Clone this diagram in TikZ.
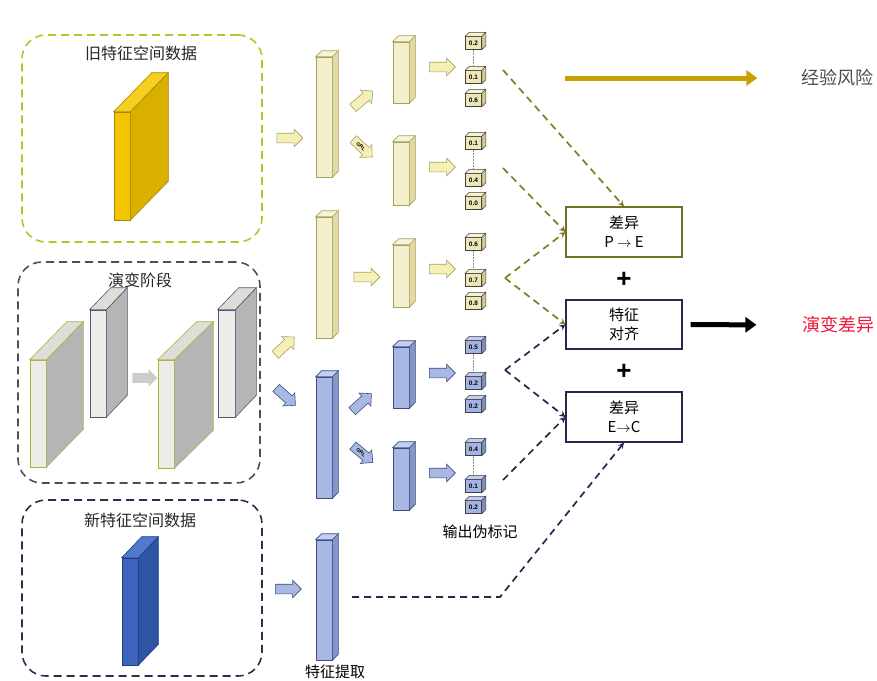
\documentclass[tikz,border=0pt]{standalone}
\usepackage{fontspec}
\setsansfont{Liberation Sans}
\newfontfamily\cjk{Noto Sans CJK SC}
\usepackage{xcolor}
\usetikzlibrary{arrows.meta, shapes.arrows}

\definecolor{limeline}{HTML}{B8C328}
\definecolor{grayline}{HTML}{505050}
\definecolor{navyline}{HTML}{2C2E50}
\definecolor{olivedash}{HTML}{7E7E22}
\definecolor{navydash}{HTML}{262850}
\definecolor{barY}{HTML}{F3EECB}
\definecolor{barYside}{HTML}{E2D9A4}
\definecolor{barYtop}{HTML}{F8F4DC}
\definecolor{barYline}{HTML}{A6A25C}
\definecolor{barB}{HTML}{A8B8E2}
\definecolor{barBside}{HTML}{8495C6}
\definecolor{barBtop}{HTML}{C4CEEE}
\definecolor{barBline}{HTML}{3E4C86}
\definecolor{cubeY}{HTML}{EEE7B8}
\definecolor{cubeYside}{HTML}{D5CB8C}
\definecolor{cubeYtop}{HTML}{F6F1D2}
\definecolor{cubeB}{HTML}{A4B3E2}
\definecolor{cubeBside}{HTML}{7F90C8}
\definecolor{cubeBtop}{HTML}{C2CCEE}
\definecolor{gold}{HTML}{F2C500}
\definecolor{goldside}{HTML}{D9B000}
\definecolor{goldtop}{HTML}{F6D01E}
\definecolor{goldline}{HTML}{A8850A}
\definecolor{pale}{HTML}{ECECE8}
\definecolor{paleside}{HTML}{B5B5B5}
\definecolor{paletop}{HTML}{DEDED8}
\definecolor{paleY}{HTML}{B0B040}
\definecolor{paleN}{HTML}{55557A}
\definecolor{deepblue}{HTML}{3C64BC}
\definecolor{deepblueside}{HTML}{2F54A3}
\definecolor{deepbluetop}{HTML}{5378CC}
\definecolor{deepblueline}{HTML}{1E3C86}
\definecolor{riskgold}{HTML}{C9A200}
\definecolor{evored}{HTML}{F0143C}

\begin{document}
\begin{tikzpicture}[x=1pt, y=-1pt,
    regionbox/.style={rounded corners=24pt, line width=1.6pt, dash pattern=on 8pt off 5pt, minimum width=240pt, inner sep=0pt},
    title/.style={font=\cjk\fontsize{16}{18}\selectfont, text=black!85},
    slab/.style={minimum width=16pt, inner sep=0pt, line width=0.6pt},
    ybar/.style={draw=barYline, fill=barY, minimum width=16pt, inner sep=0pt, line width=0.6pt},
    bbar/.style={draw=barBline, fill=barB, minimum width=16pt, inner sep=0pt, line width=0.6pt},
    ycube/.style={draw=black!75, fill=cubeY, minimum width=16pt, minimum height=13pt, inner sep=0pt, line width=0.5pt, font=\sffamily\bfseries\fontsize{6.5}{7}\selectfont},
    bcube/.style={draw=black!75, fill=cubeB, minimum width=16pt, minimum height=13pt, inner sep=0pt, line width=0.5pt, font=\sffamily\bfseries\fontsize{6.5}{7}\selectfont},
    blockarr/.style={single arrow, minimum height=26pt, single arrow head extend=4pt, inner xsep=0pt, inner ysep=4.5pt, text height=0pt, text depth=0pt, line width=0.6pt},
    yarr/.style={blockarr, draw=barYline, fill=barY!90!yellow},
    barr/.style={blockarr, draw=barBline, fill=barB},
    grl/.style={inner ysep=2.7pt, text height=3.6pt, text depth=0pt, font=\sffamily\bfseries\fontsize{5}{5}\selectfont},
    odash/.style={olivedash, line width=1.7pt, dash pattern=on 7pt off 5pt, -{Stealth[length=6pt, width=6pt]}},
    ndash/.style={navydash, line width=1.7pt, dash pattern=on 7pt off 5pt, -{Stealth[length=6pt, width=6pt]}},
    resbox/.style={draw, line width=1.2pt, fill=white, minimum width=116pt, minimum height=50pt, align=center, font=\cjk\fontsize{15}{19}\selectfont},
    plus/.style={font=\sffamily\bfseries\fontsize{26}{26}\selectfont}
]
\useasboundingbox (0,0) rectangle (877,680);

% ---- Input regions (left) ----
\node[regionbox, draw=limeline, minimum height=207pt] (oldbox) at (142,138.5) {};
\node[title] (oldlbl) at (141,53) {旧特征空间数据};
\node[slab, draw=goldline, fill=gold, minimum height=108pt] (gs) at (122,166) {};

\node[regionbox, draw=grayline, minimum width=242pt, minimum height=221pt] (evobox) at (139,372.5) {};
\node[title] (evolbl) at (140,280) {演变阶段};
\node[slab, draw=paleY, fill=pale, minimum height=107pt] (sA) at (38,413.5) {};
\node[slab, draw=paleN, fill=pale, minimum height=107pt] (sB) at (98,363.5) {};
\node[blockarr, fill=gray!40, minimum height=25pt] (evoarr) at (142.5,378) {};
\node[slab, draw=paleY, fill=pale, minimum height=108pt] (sC) at (166,414) {};
\node[slab, draw=paleN, fill=pale, minimum width=17pt, minimum height=107pt] (sD) at (226.5,363.5) {};

\node[regionbox, draw=navyline, minimum height=176pt] (newbox) at (142,588) {};
\node[title] (newlbl) at (140,520) {新特征空间数据};
\node[slab, draw=deepblueline, fill=deepblue, minimum height=107pt] (ns) at (130,611.5) {};

% depth of the slabs
\foreach \n/\dx/\dy/\lc/\sc/\tc in {gs/38/39/goldline/goldside/goldtop, sA/37/38/paleY/paleside/paletop,
    sB/21/22/paleN/paleside/paletop, sC/39/38/paleY/paleside/paletop, sD/21/22/paleN/paleside/paletop,
    ns/20/21/deepblueline/deepblueside/deepbluetop} {
  \filldraw[draw=\lc, fill=\sc, line width=0.6pt] (\n.north east) -- ++(\dx,-\dy) -- ([shift={(\dx,-\dy)}]\n.south east) -- (\n.south east) -- cycle;
  \filldraw[draw=\lc, fill=\tc, line width=0.6pt] (\n.north west) -- ++(\dx,-\dy) -- ([shift={(\dx,-\dy)}]\n.north east) -- (\n.north east) -- cycle;
}

% ---- Feature extraction bars ----
\node[ybar, minimum height=120pt] (f1) at (324,117) {};
\node[ybar, minimum height=61pt]  (f2) at (401,72.5) {};
\node[ybar, minimum height=63pt]  (f3) at (401,173.5) {};
\node[ybar, minimum height=121pt] (f4) at (324,277.5) {};
\node[ybar, minimum height=62pt]  (f5) at (401,276) {};
\node[bbar, minimum height=121pt] (f6) at (324,437.5) {};
\node[bbar, minimum height=61pt]  (f7) at (401,377.5) {};
\node[bbar, minimum height=62pt]  (f8) at (401,479) {};
\node[bbar, minimum height=120pt] (f9) at (324,600) {};

\foreach \n in {f1,f2,f3,f4,f5} {
  \filldraw[draw=barYline, fill=barYside, line width=0.6pt] (\n.north east) -- ++(6,-6) -- ([shift={(6,-6)}]\n.south east) -- (\n.south east) -- cycle;
  \filldraw[draw=barYline, fill=barYtop, line width=0.6pt] (\n.north west) -- ++(6,-6) -- ([shift={(6,-6)}]\n.north east) -- (\n.north east) -- cycle;
}
\foreach \n in {f6,f7,f8,f9} {
  \filldraw[draw=barBline, fill=barBside, line width=0.6pt] (\n.north east) -- ++(6,-6) -- ([shift={(6,-6)}]\n.south east) -- (\n.south east) -- cycle;
  \filldraw[draw=barBline, fill=barBtop, line width=0.6pt] (\n.north west) -- ++(6,-6) -- ([shift={(6,-6)}]\n.north east) -- (\n.north east) -- cycle;
}
\node[font=\cjk\fontsize{15}{17}\selectfont] (extlbl) at (335,672) {特征提取};

% ---- Block arrows ----
\node[yarr] (a1) at (287.5,138) {};
\node[yarr, rotate=40] (a2) at (361,101) {};
\node[yarr, grl, rotate=-43] (a3) at (361,146.5) {GRL};
\node[yarr] (a4) at (440,67) {};
\node[yarr] (a5) at (440,167) {};
\node[yarr, rotate=43] (a6) at (283,347.5) {};
\node[yarr] (a7) at (364.5,277) {};
\node[yarr] (a8) at (440,269) {};
\node[barr, rotate=-42] (a9) at (284,395) {};
\node[barr, rotate=42] (a10) at (360,404) {};
\node[barr, grl, rotate=-40] (a11) at (361,452.5) {GRL};
\node[barr] (a12) at (440,373) {};
\node[barr] (a13) at (440,473) {};
\node[barr] (a14) at (286,589) {};

% ---- Pseudo labels ----
\foreach \g/\ya/\yb/\yc/\va/\vb/\vc/\s in {A/43/77/100/0.2/0.1/0.6/ycube, B/143/180/203/0.1/0.4/0.0/ycube,
    C/244/280/303/0.6/0.7/0.8/ycube, D/347/383/406/0.5/0.2/0.2/bcube, E/449/486/507/0.4/0.1/0.2/bcube} {
  \node[\s] (c\g1) at (473.5,\ya) {\va};
  \node[\s] (c\g2) at (473.5,\yb) {\vb};
  \node[\s] (c\g3) at (473.5,\yc) {\vc};
  \draw[black!45, densely dotted, line width=0.5pt] (c\g1.south) -- ([yshift=4pt]c\g2.north);
}
\foreach \g/\sc/\tc in {A/cubeYside/cubeYtop, B/cubeYside/cubeYtop, C/cubeYside/cubeYtop, D/cubeBside/cubeBtop, E/cubeBside/cubeBtop} {
  \foreach \i in {1,2,3} {
    \filldraw[draw=black!75, fill=\sc, line width=0.5pt] (c\g\i.north east) -- ++(4,-4) -- ([shift={(4,-4)}]c\g\i.south east) -- (c\g\i.south east) -- cycle;
    \filldraw[draw=black!75, fill=\tc, line width=0.5pt] (c\g\i.north west) -- ++(4,-4) -- ([shift={(4,-4)}]c\g\i.north east) -- (c\g\i.north east) -- cycle;
  }
}
\node[font=\cjk\fontsize{15}{17}\selectfont] (pslbl) at (480,532) {输出伪标记};

% ---- Discrepancy boxes ----
\node[resbox, draw=olivedash!90!black] (pe) at (624,232) {差异\\P $\rightarrow$ E};
\node[plus] (p1) at (624,280) {+};
\node[resbox, draw=navydash, minimum height=49pt] (al) at (624,324.5) {特征\\对齐};
\node[plus] (p2) at (624,372) {+};
\node[resbox, draw=navydash] (ec) at (624,417) {差异\\E$\rightarrow$C};

\node[font=\cjk\fontsize{18}{20}\selectfont, text=black!70] (risk) at (837,78) {经验风险};
\node[font=\cjk\fontsize{18}{20}\selectfont, text=evored] (evo) at (838,325) {演变差异};

% ---- Connectors ----
\coordinate (g0) at (565,78);
\draw[riskgold, line width=5pt, -{Triangle[length=11pt, width=15pt]}, shorten >=40pt] (g0) -- (risk);
\draw[black, line width=5pt, -{Triangle[length=11pt, width=15pt]}, shorten <=8pt, shorten >=42pt] (al) -- (evo);

\coordinate (s1) at (503,70);
\coordinate (s2) at (503,168);
\coordinate (v1) at (505,278);
\coordinate (v2) at (505,370);
\coordinate (s3) at (503,480);
\coordinate (s4) at (352,597);
\coordinate (k4) at (500,597);
\draw[odash] (s1) -- (pe.north);
\draw[odash] (s2) -- (pe.west);
\draw[odash] (v1) -- (pe.west);
\draw[odash] (v1) -- (al.west);
\draw[ndash] (v2) -- (al.west);
\draw[ndash] (v2) -- (ec.west);
\draw[ndash] (s3) -- (ec.west);
\draw[ndash] (s4) -- (k4) -- (ec.south);

\end{tikzpicture}
\end{document}
